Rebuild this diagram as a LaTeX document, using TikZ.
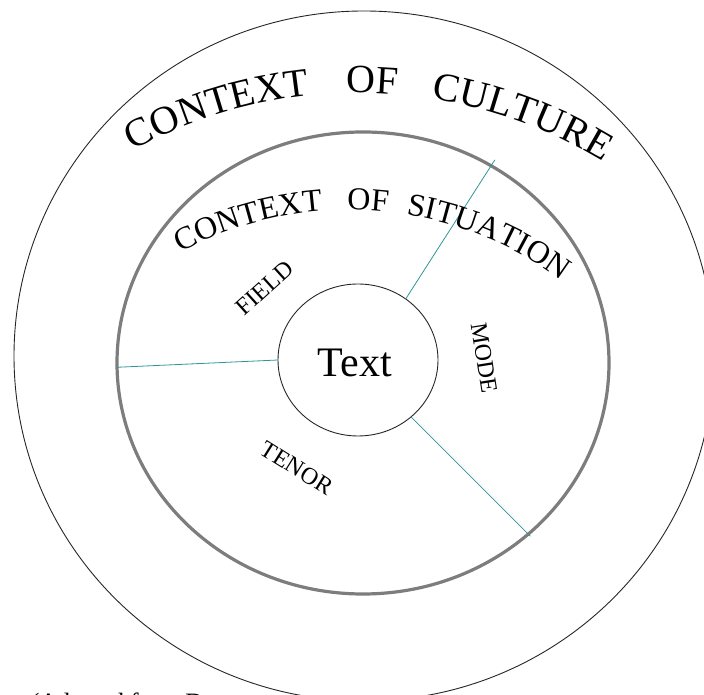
\documentclass[tikz,border=0pt]{standalone}
\usepackage{fontspec}
\setmainfont{Liberation Serif}
\usetikzlibrary{shapes.geometric,decorations.text,calc}
\definecolor{tealline}{RGB}{45,150,150}
\definecolor{ringgray}{RGB}{125,125,125}
\begin{document}
\begin{tikzpicture}[x=1pt,y=1pt,
  ring/.style={ellipse, draw, inner sep=0pt, outer sep=0pt},
  link/.style={draw=tealline, line width=0.8pt},
  lab/.style={font=\fontsize{24}{24}\selectfont, inner sep=0pt},
  arctext/.style={decorate, decoration={text along path, text align=center, text={#1}}}
]
\useasboundingbox (0,0) rectangle (704,695);
\clip (0,0) rectangle (704,695);
% rings
\node[ring, draw=black!85, line width=0.9pt, minimum width=700pt, minimum height=690pt] (cult) at (364,339) {};
\node[ring, draw=ringgray, line width=3.2pt, minimum width=492pt, minimum height=462pt] (sit) at (363,332) {};
\node[ring, draw=black!85, line width=0.9pt, minimum width=160pt, minimum height=152pt] (txt) at (358,335) {};
% connectors
\draw[link, shorten >=-7pt] (txt.52) -- (sit.57);
\draw[link] (txt.180) -- (sit.181);
\draw[link, shorten >=-3pt] (txt.313) -- (sit.314);
% curved titles
\coordinate (cc) at (359,130);
\coordinate (cs) at (349,128);
\path[arctext={|\fontsize{40}{40}\selectfont|CONTEXT}] ($(cc)+(127.3:472)$) arc[start angle=127.3, end angle=87.3, radius=472];
\path[arctext={|\fontsize{40}{40}\selectfont|OF}] ($(cc)+(98.4:472)$) arc[start angle=98.4, end angle=78.4, radius=472];
\path[arctext={|\fontsize{40}{40}\selectfont|CULTURE}] ($(cc)+(90:472)$) arc[start angle=90, end angle=50, radius=472];
\path[arctext={|\fontsize{32}{32}\selectfont|CONTEXT}] ($(cs)+(126.2:357)$) arc[start angle=126.2, end angle=86.2, radius=357];
\path[arctext={|\fontsize{32}{32}\selectfont|OF}] ($(cs)+(97:357)$) arc[start angle=97, end angle=77, radius=357];
\path[arctext={|\fontsize{32}{32}\selectfont|SITUATION}] ($(cs)+(92.1:357)$) arc[start angle=92.1, end angle=42.1, radius=357];
% labels
\node[font=\fontsize{42}{42}\selectfont, inner sep=0pt] (tx) at (355,332) {Text};
\node[lab, rotate=42] (field) at (265,407) {FIELD};
\node[lab, rotate=-81] (mode) at (484,337) {MODE};
\node[lab, rotate=-32] (tenor) at (297,227) {TENOR};
\node[anchor=base west, inner sep=0pt, font=\fontsize{25}{25}\selectfont] (src) at (31,-16) {(Adapted from D};
\end{tikzpicture}
\end{document}
